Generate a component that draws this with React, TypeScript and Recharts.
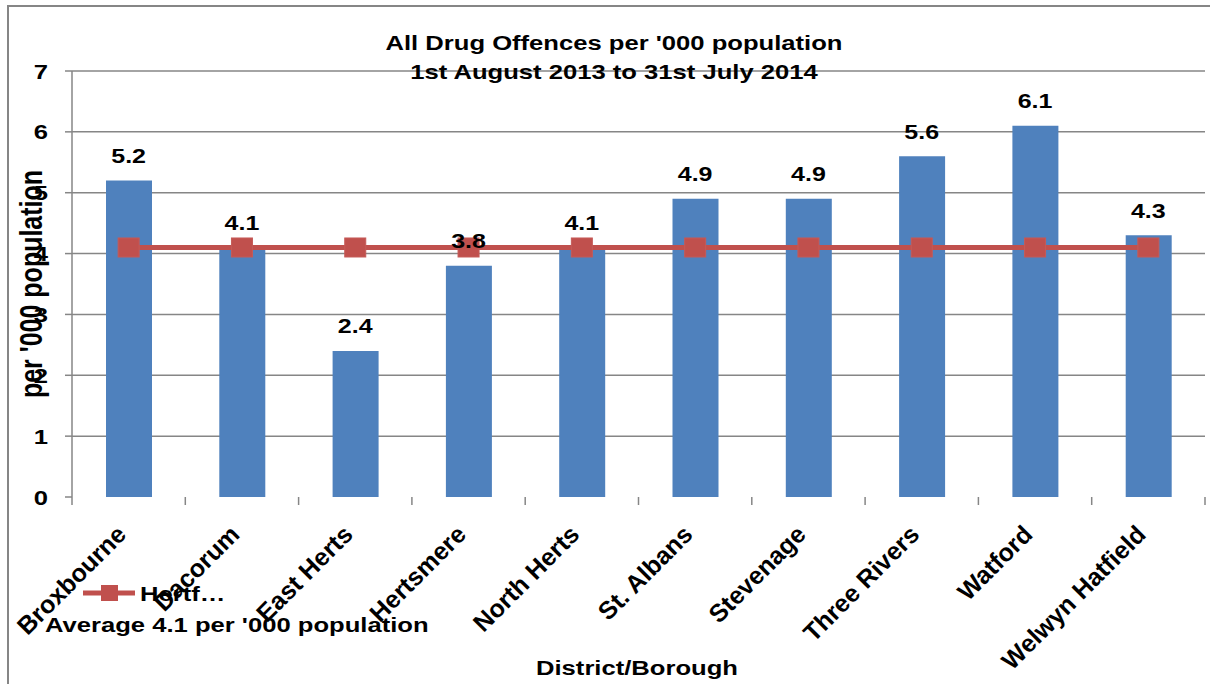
import React from 'react';
import {
  ComposedChart,
  Bar,
  Line,
  XAxis,
  YAxis,
  CartesianGrid,
  Legend,
  LabelList,
} from 'recharts';

// Drug offences per '000 population, 1 Aug 2013 – 31 Jul 2014
const districts = [
  'Broxbourne',
  'Dacorum',
  'East Herts',
  'Hertsmere',
  'North Herts',
  'St. Albans',
  'Stevenage',
  'Three Rivers',
  'Watford',
  'Welwyn Hatfield',
];
const ratePer1000 = [5.2, 4.1, 2.4, 3.8, 4.1, 4.9, 4.9, 5.6, 6.1, 4.3];
const countyAverage = [4.1, 4.1, 4.1, 4.1, 4.1, 4.1, 4.1, 4.1, 4.1, 4.1];
const yTicks = [0, 1, 2, 3, 4, 5, 6, 7];
const gridValues = [1, 2, 3, 4, 5, 6, 7];

const chartData = districts.map((district, i) => ({
  district,
  rate: ratePer1000[i],
  average: countyAverage[i],
}));

const W = 1210;
const H = 684;
const MARGIN = { top: 71, right: 5, bottom: 37, left: 12 };
const Y_AXIS_W = 60;
const X_AXIS_H = 150;
const BAND = (W - MARGIN.left - Y_AXIS_W - MARGIN.right) / districts.length;

// the exported chart was widened, so upright lettering is stretched sideways
const STRETCH = 1.22;
const FONT = '"Liberation Sans", Arial, sans-serif';
const GREY = '#868686';
const BLUE = '#4F81BD';
const RED = '#C0504D';

function Stretched({ x, y, size, anchor = 'middle', angle = 0, sx = STRETCH, children }: any) {
  const rot = angle ? ` rotate(${angle})` : '';
  return (
    <text
      transform={`translate(${x},${y}) scale(${sx},1)${rot}`}
      textAnchor={anchor}
      fontFamily={FONT}
      fontWeight="bold"
      fontSize={size}
      fill="#000"
    >
      {children}
    </text>
  );
}

function DistrictTick(props: any) {
  const { x, y, payload, index } = props;
  const left = x - BAND / 2;
  const right = x + BAND / 2;
  return (
    <g>
      <line x1={left} x2={left} y1={y} y2={y + 8} stroke={GREY} strokeWidth={1.5} />
      {index === districts.length - 1 && (
        <line x1={right} x2={right} y1={y} y2={y + 8} stroke={GREY} strokeWidth={1.5} />
      )}
      <Stretched x={x - 1} y={y + 39} size={25} anchor="end" angle={-45} sx={1}>
        {payload.value}
      </Stretched>
    </g>
  );
}

function RateTick(props: any) {
  const { x, y, payload } = props;
  return (
    <Stretched x={x} y={y + 7.5} size={21} anchor="end">
      {payload.value}
    </Stretched>
  );
}

function SquareDot(props: any) {
  const { cx, cy, index } = props;
  if (cx == null || cy == null) return null;
  return (
    <rect
      key={`sq-${index}`}
      x={cx - 10.5}
      y={cy - 9.5}
      width={21}
      height={19}
      fill={RED}
      stroke="#C55A57"
      strokeWidth={1}
    />
  );
}

function RateLabel(props: any) {
  const { x, y, value } = props;
  return (
    <Stretched x={x} y={y - 17.5} size={20.5}>
      {Number(value).toFixed(1)}
    </Stretched>
  );
}

function AverageLegend(props: any) {
  const entry = (props.payload || []).find((p: any) => p.dataKey === 'average');
  const name: string = entry ? entry.value : '';
  return (
    <svg width={460} height={90} style={{ display: 'block' }}>
      <line x1={83} x2={135} y1={33} y2={33} stroke={RED} strokeWidth={5} />
      <rect x={101} y={25} width={17} height={16} fill={RED} />
      <Stretched x={140} y={41} size={21} anchor="start">
        {name.slice(0, 5) + '…'}
      </Stretched>
      <Stretched x={45} y={72} size={21} anchor="start">
        Average 4.1 per '000 population
      </Stretched>
    </svg>
  );
}

export default function App() {
  return (
    <div
      style={{
        position: 'fixed',
        left: 0,
        top: 0,
        width: W,
        height: H,
        overflow: 'hidden',
        background: '#fff',
      }}
    >
      {/* chart frame, runs past the right and bottom edges */}
      <div
        style={{
          position: 'absolute',
          left: 7,
          top: 5,
          width: 1300,
          height: 800,
          border: `2px solid ${GREY}`,
        }}
      />
      {/* axis title sits beneath the tick numbers */}
      <svg width={W} height={H} style={{ position: 'absolute', left: 0, top: 0 }}>
        <Stretched x={42} y={284} size={25} angle={-90}>
          per '000 population
        </Stretched>
      </svg>
      <div style={{ position: 'absolute', left: 0, top: 0 }}>
        <ComposedChart width={W} height={H} data={chartData} margin={MARGIN}>
          <CartesianGrid
            vertical={false}
            horizontalValues={gridValues}
            stroke={GREY}
            strokeWidth={1.5}
          />
          <XAxis
            dataKey="district"
            height={X_AXIS_H}
            interval={0}
            tickLine={false}
            axisLine={false}
            tickSize={0}
            tickMargin={0}
            tick={<DistrictTick />}
          />
          <YAxis
            width={Y_AXIS_W}
            domain={[0, 7]}
            ticks={yTicks}
            interval={0}
            axisLine={{ stroke: GREY, strokeWidth: 1.5 }}
            tickLine={{ stroke: GREY, strokeWidth: 1.5 }}
            tickSize={7}
            tickMargin={17}
            tick={<RateTick />}
          />
          <Bar dataKey="rate" fill={BLUE} barSize={46} isAnimationActive={false} legendType="none" />
          <Line
            dataKey="average"
            name="Hertfordshire"
            stroke={RED}
            strokeWidth={5}
            dot={<SquareDot />}
            activeDot={false}
            isAnimationActive={false}
          />
          {/* value labels sit above the average line */}
          <Line
            dataKey="rate"
            stroke="none"
            dot={false}
            activeDot={false}
            legendType="none"
            isAnimationActive={false}
          >
            <LabelList dataKey="rate" content={<RateLabel />} />
          </Line>
          <Legend
            layout="horizontal"
            align="center"
            verticalAlign="middle"
            content={<AverageLegend />}
            wrapperStyle={{ left: 0, top: 560, width: 460, height: 90 }}
          />
        </ComposedChart>
      </div>
      <svg
        width={W}
        height={H}
        style={{ position: 'absolute', left: 0, top: 0, pointerEvents: 'none' }}
      >
        <Stretched x={614} y={50} size={21}>
          All Drug Offences per '000 population
        </Stretched>
        <Stretched x={614} y={79} size={21}>
          1st August 2013 to 31st July 2014
        </Stretched>
        <Stretched x={637} y={675} size={21}>
          District/Borough
        </Stretched>
      </svg>
    </div>
  );
}
